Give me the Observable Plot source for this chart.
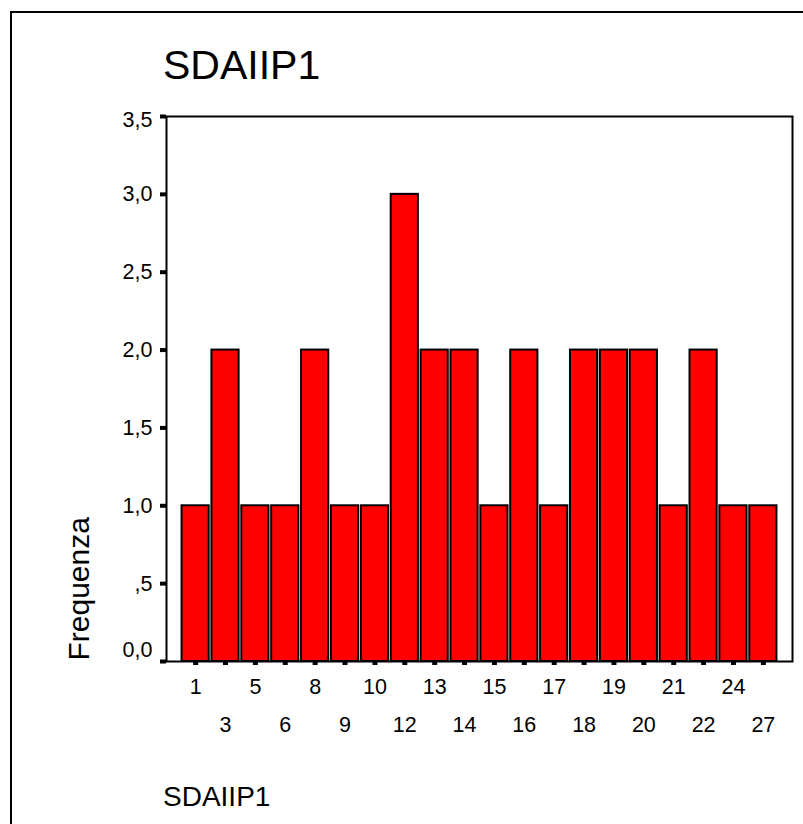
<!DOCTYPE html>
<html>
<head>
<meta charset="utf-8">
<script src="https://cdn.jsdelivr.net/npm/d3@7"></script>
<script src="https://cdn.jsdelivr.net/npm/@observablehq/plot@0.6"></script>
<style>
  html, body { margin: 0; padding: 0; background: #fff; }
  #wrap { position: relative; width: 803px; height: 824px; overflow: hidden; font-family: "Liberation Sans", Arial, sans-serif; color: #000; }
  #outer { position: absolute; left: 10px; top: 11px; width: 1000px; height: 1000px; border: 2px solid #000; box-sizing: border-box; }
  #title { position: absolute; left: 163px; top: 45px; font-size: 41px; line-height: 1; white-space: nowrap; }
  #caption { position: absolute; left: 163px; top: 783px; font-size: 28px; line-height: 1; white-space: nowrap; }
  #chart { position: absolute; left: 0; top: 90px; }
</style>
</head>
<body>
<div id="wrap">
  <div id="outer"></div>
  <div id="title">SDAIIP1</div>
  <div id="chart"></div>
  <div id="caption">SDAIIP1</div>
</div>
<script>
const categories = ["1","3","5","6","8","9","10","12","13","14","15","16","17","18","19","20","21","22","24","27"];
const frequencies = [1,2,1,1,2,1,1,3,2,2,1,2,1,2,2,2,1,2,1,1];
const yTicks = [0, 0.5, 1, 1.5, 2, 2.5, 3, 3.5];
const yTickLabels = ["0,0", ",5", "1,0", "1,5", "2,0", "2,5", "3,0", "3,5"];
const yLabel = "Frequenza";

const data = categories.map((c, i) => ({cat: c, freq: frequencies[i]}));
const yFmt = d => yTickLabels[yTicks.indexOf(d)];
const rowA = categories.filter((_, i) => i % 2 === 0);
const rowB = categories.filter((_, i) => i % 2 === 1);
const FS = 21.5;

const chart = Plot.plot({
  width: 803,
  height: 660,
  marginLeft: 166,
  marginRight: 11,
  marginTop: 26,
  marginBottom: 89,
  style: {fontFamily: "'Liberation Sans', Arial, sans-serif", fontSize: "21.5px", color: "black", background: "transparent", overflow: "visible"},
  x: {type: "band", domain: categories, paddingInner: 0.09, paddingOuter: 0.52, round: false, label: null},
  y: {domain: [0, 3.5], label: null},
  marks: [
    Plot.barY(data, {x: "cat", y: "freq", fill: "#ff0000", stroke: "black", strokeWidth: 2}),
    Plot.frame({stroke: "black", strokeWidth: 2}),
    Plot.axisY({ticks: yTicks, tickSize: 6, strokeWidth: 4, tickFormat: () => "", label: null}),
    Plot.axisY({ticks: yTicks.slice(1, -1), tickSize: 0, tickPadding: 14, tickFormat: yFmt, fontSize: FS, label: null}),
    Plot.axisY({ticks: [0], tickSize: 0, tickPadding: 14, tickFormat: yFmt, dy: -11, fontSize: FS, label: null}),
    Plot.axisY({ticks: [3.5], tickSize: 0, tickPadding: 14, tickFormat: yFmt, dy: 4, fontSize: FS, label: null}),
    Plot.axisX({tickSize: 4, strokeWidth: 5, tickFormat: () => "", label: null}),
    Plot.axisX({ticks: rowA, tickSize: 0, tickPadding: 17, fontSize: FS, label: null}),
    Plot.axisX({ticks: rowB, tickSize: 0, tickPadding: 55, fontSize: FS, label: null}),
    Plot.text([yLabel], {frameAnchor: "bottom-left", text: d => d, rotate: -90, textAnchor: "start", lineAnchor: "middle", dx: -87, dy: -1, fontSize: 30})
  ]
});
document.getElementById("chart").appendChild(chart);
</script>
</body>
</html>
